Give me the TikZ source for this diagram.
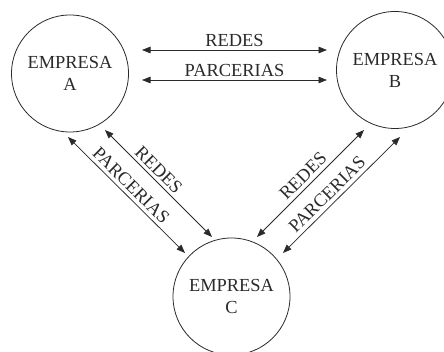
\documentclass[tikz,border=0pt]{standalone}
\usepackage{fontspec}
\setmainfont{Liberation Serif}
\usetikzlibrary{arrows.meta}
\definecolor{ink}{HTML}{2A2A2A}
\begin{document}
\begin{tikzpicture}[x=1pt,y=-1pt,
  firm/.style={draw=ink, line width=0.8pt, circle, minimum size=117pt, inner sep=0pt,
    text=ink, align=center, font=\fontsize{18.4}{22}\selectfont},
  link/.style={draw=ink, line width=0.75pt, {Triangle[length=8.5pt,width=6.5pt]}-{Triangle[length=8.5pt,width=6.5pt]}},
  tag/.style={text=ink, inner sep=0pt, font=\fontsize{18.4}{21}\selectfont}]
\useasboundingbox (0,0) rectangle (444,352);
\fill[white] (0,0) rectangle (444,352);

% the three firms
\node[firm] (A) at (70,73.5) {\raisebox{-6pt}{\parbox{90pt}{\centering EMPRESA\\A}}};
\node[firm] (B) at (395,70) {\raisebox{-6pt}{\parbox{90pt}{\centering EMPRESA\\B}}};
\node[firm] (C) at (231.5,296.5) {\raisebox{-6pt}{\parbox{90pt}{\centering EMPRESA\\C}}};

% arrow end points
\coordinate (ab1) at (142,50);  \coordinate (ba1) at (327,50);
\coordinate (ab2) at (142,80);  \coordinate (ba2) at (327,80);
\coordinate (ac1) at (105,130); \coordinate (ca1) at (212,237);
\coordinate (ac2) at (68,137);  \coordinate (ca2) at (185,253);
\coordinate (cb1) at (257,237); \coordinate (bc1) at (364,130);
\coordinate (cb2) at (283,253); \coordinate (bc2) at (400,137);

% A -- B
\draw[link] (ab1) -- node[tag, above=3pt] {REDES} (ba1);
\draw[link] (ab2) -- node[tag, above=3pt] {PARCERIAS} (ba2);
% A -- C
\draw[link] (ac1) -- node[tag, sloped, pos=0.44, above=3pt] {REDES} (ca1);
\draw[link] (ac2) -- node[tag, sloped, pos=0.48, above=3.5pt] {PARCERIAS} (ca2);
% C -- B
\draw[link] (cb1) -- node[tag, sloped, pos=0.5, above=4pt] {REDES} (bc1);
\draw[link] (cb2) -- node[tag, sloped, pos=0.44, above=4pt] {PARCERIAS} (bc2);
\end{tikzpicture}
\end{document}
